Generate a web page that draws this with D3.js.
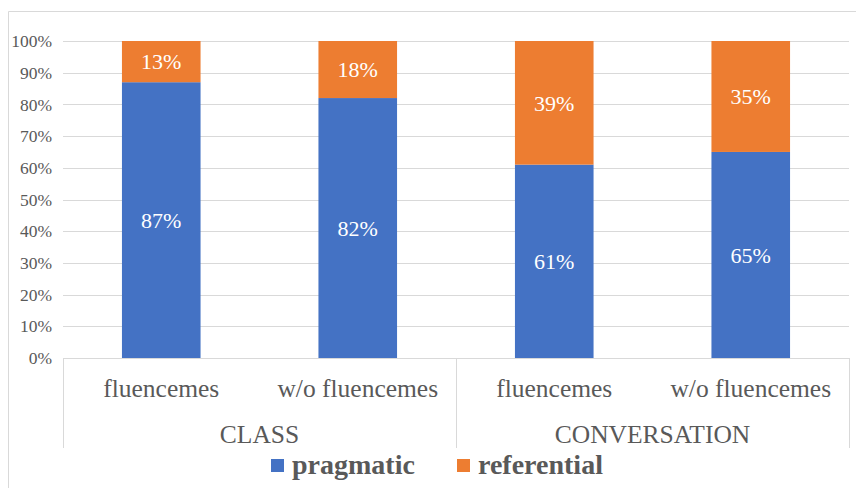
<!DOCTYPE html>
<html>
<head>
<meta charset="utf-8">
<script src="https://cdn.jsdelivr.net/npm/d3@7"></script>
</head>
<body style="margin:0;background:#fff">
<svg id="chart" width="856" height="488" style="display:block"></svg>
<script>
// Share of fluenceme types per setting
const groups = ["CLASS", "CONVERSATION"];
const categories = ["fluencemes", "w/o fluencemes", "fluencemes", "w/o fluencemes"];
const categoryGroup = [0, 0, 1, 1];
const pragmatic = [87, 82, 61, 65];
const referential = [13, 18, 39, 35];
const yTicks = [0, 10, 20, 30, 40, 50, 60, 70, 80, 90, 100];
const seriesNames = ["pragmatic", "referential"];
const seriesColors = ["#4472C4", "#ED7D31"];

const FONT = "Liberation Serif";
const svg = d3.select("#chart");
const plot = { left: 63, right: 849, top: 41, bottom: 358 };
const axisBottom = 448;
const textColor = "#595959";
const gridColor = "#d9d9d9";

function serif(sel, size) {
  return sel.attr("font-family", FONT).attr("font-size", size)
    .style("font-family", "'" + FONT + "'").style("font-size", size + "px");
}

// chart frame
svg.append("path")
  .attr("d", "M8.5,488 V11.5 H856")
  .attr("fill", "none").attr("stroke", gridColor).attr("stroke-width", 1);

const x = d3.scaleBand()
  .domain(d3.range(categories.length))
  .range([plot.left, plot.right])
  .paddingInner(0.6).paddingOuter(0.3);

const y = d3.scaleLinear().domain([0, 100]).range([plot.bottom, plot.top]);

// gridlines
svg.append("g").selectAll("line").data(yTicks.filter(d => d > 0)).join("line")
  .attr("x1", plot.left).attr("x2", plot.right)
  .attr("y1", d => Math.round(y(d)) + 0.5).attr("y2", d => Math.round(y(d)) + 0.5)
  .attr("stroke", gridColor).attr("stroke-width", 1);

// value axis labels
const yScaleAxis = d3.axisLeft(y).tickValues(yTicks).tickFormat(d => d + "%").tickSize(0).tickPadding(11);
const yg = svg.append("g").attr("transform", `translate(${plot.left},0)`).call(yScaleAxis);
yg.attr("font-family", FONT).attr("font-size", 17.5);
yg.select(".domain").remove();
serif(yg.selectAll("text"), 17.5).attr("fill", textColor);

// stacked bars
const stacked = categories.map((c, i) => [
  { s: 0, y0: 0, y1: pragmatic[i], v: pragmatic[i], i },
  { s: 1, y0: pragmatic[i], y1: pragmatic[i] + referential[i], v: referential[i], i }
]).flat();

svg.append("g").selectAll("rect").data(stacked).join("rect")
  .attr("x", d => x(d.i))
  .attr("width", x.bandwidth())
  .attr("y", d => y(d.y1))
  .attr("height", d => y(d.y0) - y(d.y1))
  .attr("fill", d => seriesColors[d.s]);

serif(svg.append("g").selectAll("text").data(stacked).join("text"), 22)
  .attr("x", d => x(d.i) + x.bandwidth() / 2)
  .attr("y", d => (y(d.y0) + y(d.y1)) / 2)
  .attr("dy", "0.35em")
  .attr("text-anchor", "middle")
  .attr("fill", "#fff")
  .text(d => d.v + "%");

// multi-level category axis
const catAxis = svg.append("g").attr("stroke", gridColor).attr("stroke-width", 1);
catAxis.append("line")
  .attr("x1", plot.left).attr("x2", plot.right)
  .attr("y1", plot.bottom + 0.5).attr("y2", plot.bottom + 0.5);
const dividers = [plot.left, plot.left + (plot.right - plot.left) / 2, plot.right];
catAxis.selectAll("line.div").data(dividers).join("line").attr("class", "div")
  .attr("x1", d => Math.round(d) + 0.5).attr("x2", d => Math.round(d) + 0.5)
  .attr("y1", plot.bottom).attr("y2", axisBottom);

serif(svg.append("g").selectAll("text").data(categories).join("text"), 25.5)
  .attr("x", (d, i) => x(i) + x.bandwidth() / 2)
  .attr("y", 397)
  .attr("text-anchor", "middle")
  .attr("fill", textColor)
  .text(d => d);

serif(svg.append("g").selectAll("text").data(groups).join("text"), 25.5)
  .attr("x", (d, g) => {
    const idx = categoryGroup.map((v, i) => v === g ? i : -1).filter(i => i >= 0);
    return (x(idx[0]) + x(idx[idx.length - 1]) + x.bandwidth()) / 2;
  })
  .attr("y", 443)
  .attr("text-anchor", "middle")
  .attr("fill", textColor)
  .text(d => d);

// legend
const legendX = [271, 457];
const lg = svg.append("g").selectAll("g").data(seriesNames).join("g")
  .attr("transform", (d, i) => `translate(${legendX[i]},0)`);
lg.append("rect").attr("x", 0).attr("y", 459).attr("width", 13).attr("height", 13)
  .attr("fill", (d, i) => seriesColors[i]);
serif(lg.append("text"), 28).attr("x", 21).attr("y", 474)
  .attr("font-weight", "bold").style("font-weight", "bold")
  .attr("fill", textColor)
  .text(d => d);
</script>
</body>
</html>
